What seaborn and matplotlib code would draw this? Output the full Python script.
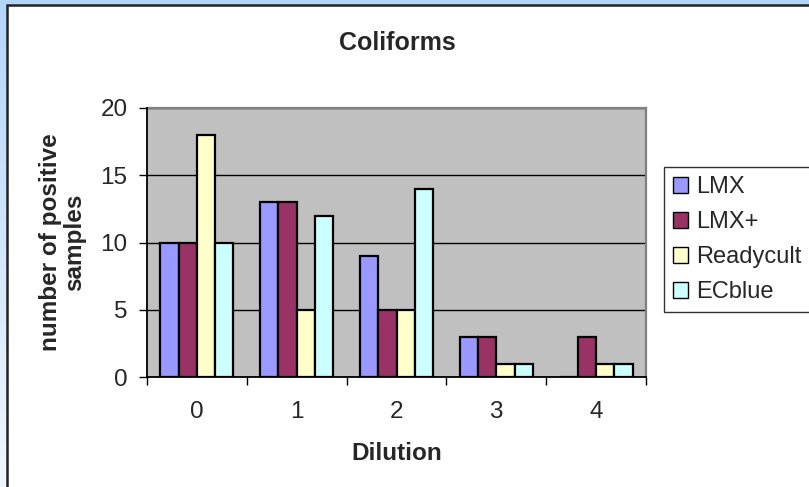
import numpy as np
import pandas as pd
import matplotlib
matplotlib.use("Agg")
import matplotlib.pyplot as plt
from matplotlib.patches import Rectangle
import seaborn as sns

dilutions = ["0", "1", "2", "3", "4"]
series = ["LMX", "LMX+", "Readycult", "ECblue"]
lmx = [10, 13, 9, 3, 0]
lmx_plus = [10, 13, 5, 3, 3]
readycult = [18, 5, 5, 1, 1]
ecblue = [10, 12, 14, 1, 1]
colors = ["#9999FF", "#993366", "#FFFFCC", "#CCFFFF"]

rows = []
for name, vals in zip(series, [lmx, lmx_plus, readycult, ecblue]):
    for d, v in zip(dilutions, vals):
        rows.append({"Dilution": d, "Series": name, "Value": v})
df = pd.DataFrame(rows)

sns.set_theme(style="white")
plt.rcParams["font.family"] = ["Liberation Sans", "DejaVu Sans"]

W, H = 809, 487
fig = plt.figure(figsize=(W / 100, H / 100), dpi=100)
fig.patch.set_facecolor("white")

# outer blue gradient background + white chart area
bg = fig.add_axes([0, 0, 1, 1], zorder=-10)
grad = np.linspace(0, 1, 256).reshape(-1, 1)
top = np.array([0xB3, 0xD5, 0xFA]) / 255
bot = np.array([0xF0, 0xF6, 0xFD]) / 255
img = top + (bot - top) * grad[:, :, None] * np.ones((1, 2, 1))
bg.imshow(img, aspect="auto", extent=[0, 1, 0, 1], origin="upper")
bg.set_xlim(0, 1)
bg.set_ylim(0, 1)
bg.axis("off")
bg.add_patch(Rectangle((7 / W, -0.1), 1.2, 1 - 5 / H + 0.1, transform=bg.transAxes,
                       facecolor="white", edgecolor="#222222", linewidth=1.8))

ax = fig.add_axes([147 / W, 1 - 377 / H, (646 - 147) / W, (377 - 108) / H])
ax.set_facecolor("#C0C0C0")

sns.barplot(data=df, x="Dilution", y="Value", hue="Series", order=dilutions,
            hue_order=series, palette=colors, width=0.73, saturation=1,
            edgecolor="black", linewidth=1.6, ax=ax, zorder=3)

ax.set_xlim(-0.5, 4.5)
ax.set_ylim(0, 20)
ax.set_yticks([0, 5, 10, 15, 20])
ax.yaxis.grid(True, color="black", linewidth=1.0)
ax.set_axisbelow(True)
for p in ax.patches:
    p.set_zorder(3)

ax.set_xticks(np.arange(-0.5, 5, 1.0))
ax.set_xticklabels([])
ax.set_xticks(range(5), minor=True)
ax.set_xticklabels(dilutions, minor=True)
ax.tick_params(axis="x", which="major", direction="out", length=6, width=1, color="black", bottom=True)
ax.tick_params(axis="x", which="minor", length=0, labelsize=17.5, pad=17)
ax.tick_params(axis="y", direction="out", length=6, width=1, color="black", left=True, labelsize=17.5, pad=8)

for side in ["left", "bottom"]:
    ax.spines[side].set_color("black")
    ax.spines[side].set_linewidth(1.3)
    ax.spines[side].set_zorder(5)
for side in ["top", "right"]:
    ax.spines[side].set_color("#808080")
    ax.spines[side].set_linewidth(1.6)

ax.set_xlabel("Dilution", fontsize=17.5, fontweight="bold", labelpad=14)
ax.set_ylabel("number of positive\nsamples", fontsize=17.5, fontweight="bold", labelpad=10,
              linespacing=1.1)
fig.text(397 / W, 1 - 43 / H, "Coliforms", fontsize=18, fontweight="bold",
         ha="center", va="center")

leg = ax.legend(loc="upper left", bbox_to_anchor=(664 / W, 1 - 167 / H),
                bbox_transform=fig.transFigure, fontsize=17, frameon=True,
                fancybox=False, edgecolor="black", handlelength=0.65, handleheight=0.65,
                handletextpad=0.35, labelspacing=0.55, borderpad=0.38, borderaxespad=0)
leg.get_frame().set_linewidth(1.0)
for h in leg.legend_handles:
    h.set_edgecolor("black")
    h.set_linewidth(1.0)

fig.savefig("out.png", dpi=100)
